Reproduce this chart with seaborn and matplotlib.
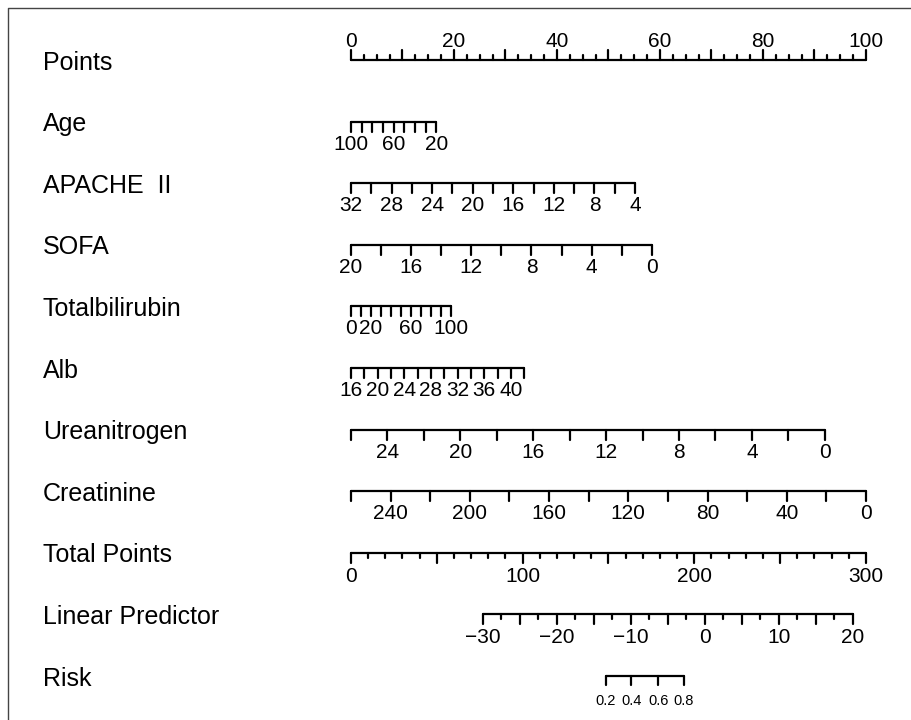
import numpy as np
import pandas as pd
import matplotlib
matplotlib.use("Agg")
import matplotlib.pyplot as plt
from matplotlib.lines import Line2D
import seaborn as sns

# ---------------- data ----------------
row_names = ["Points", "Age", "APACHE  II", "SOFA", "Totalbilirubin", "Alb",
             "Ureanitrogen", "Creatinine", "Total Points", "Linear Predictor", "Risk"]

points_ticks = np.arange(0, 100.01, 2.5)
points_labels = [0, 20, 40, 60, 80, 100]

# variable: tick values, labelled values, (value at start, value at end), (points at start, points at end)
age_ticks = [100, 90, 80, 70, 60, 50, 40, 30, 20]
age_labels = [100, 60, 20]
age_range = (100, 20)
age_points = (0, 16.6)

apache_ticks = list(range(32, 3, -2))
apache_labels = [32, 28, 24, 20, 16, 12, 8, 4]
apache_range = (32, 4)
apache_points = (0, 55.15)

sofa_ticks = list(range(20, -1, -2))
sofa_labels = [20, 16, 12, 8, 4, 0]
sofa_range = (20, 0)
sofa_points = (0, 58.4)

tbil_ticks = list(range(0, 101, 10))
tbil_labels = [0, 20, 60, 100]
tbil_range = (0, 100)
tbil_points = (0, 19.35)

alb_ticks = list(range(16, 43, 2))
alb_labels = [16, 20, 24, 28, 32, 36, 40]
alb_range = (16, 42)
alb_points = (0, 33.65)

urea_ticks = list(range(26, -1, -2))
urea_labels = [24, 20, 16, 12, 8, 4, 0]
urea_range = (26, 0)
urea_points = (0, 92.0)

creat_ticks = list(range(260, -1, -20))
creat_labels = [240, 200, 160, 120, 80, 40, 0]
creat_range = (260, 0)
creat_points = (0, 100.0)

total_ticks = list(range(0, 301, 10))
total_labels = [0, 100, 200, 300]
total_range = (0, 300)

lp_ticks = np.arange(-30, 20.01, 2.5)
lp_labels = [-30, -20, -10, 0, 10, 20]
lp_range = (-30, 20)
lp_total = (76.7, 292.3)   # total points at LP -30 and LP 20

risk_values = [0.2, 0.4, 0.6, 0.8]
risk_lp = [-13.4, -9.9, -6.3, -2.8]

# ---------------- helpers ----------------
def lin(v, vr, pr):
    v = np.asarray(v, dtype=float)
    return pr[0] + (v - vr[0]) * (pr[1] - pr[0]) / (vr[1] - vr[0])

def total_to_x(t):
    return np.asarray(t, dtype=float) / 3.0

def lp_to_x(v):
    return total_to_x(lin(v, lp_range, lp_total))

W, H = 912, 720
row_y0, row_dy = 60.0, 61.6
rows_y = [row_y0 + i * row_dy for i in range(len(row_names))]

segs = []
def seg(x0, y0, x1, y1):
    k = len(segs)
    segs.append((k, x0, y0))
    segs.append((k, x1, y1))

texts = []

# Points axis (ticks up, labels above)
y = rows_y[0]
seg(0, y, 100, y)
for t in points_ticks:
    L = 10 if abs(t % 10) < 1e-9 else 5
    seg(t, y, t, y - L)
for t in points_labels:
    texts.append((t, y - 13, str(t), 15, "baseline"))

def var_axis(i, ticks, labels, vr, pr, tl=10):
    y = rows_y[i]
    xs = lin(ticks, vr, pr)
    seg(xs.min(), y, xs.max(), y)
    for x in xs:
        seg(x, y, x, y + tl)
    for v in labels:
        texts.append((float(lin(v, vr, pr)), y + 28, str(v), 15, "baseline"))

var_axis(1, age_ticks, age_labels, age_range, age_points)
var_axis(2, apache_ticks, apache_labels, apache_range, apache_points)
var_axis(3, sofa_ticks, sofa_labels, sofa_range, sofa_points)
var_axis(4, tbil_ticks, tbil_labels, tbil_range, tbil_points)
var_axis(5, alb_ticks, alb_labels, alb_range, alb_points)
var_axis(6, urea_ticks, urea_labels, urea_range, urea_points)
var_axis(7, creat_ticks, creat_labels, creat_range, creat_points)

# Total points
y = rows_y[8]
seg(0, y, 100, y)
for t in total_ticks:
    L = 10 if t % 50 == 0 else 5
    x = float(total_to_x(t))
    seg(x, y, x, y + L)
for t in total_labels:
    texts.append((float(total_to_x(t)), y + 29, str(t), 15, "baseline"))

# Linear predictor
y = rows_y[9]
xs = lp_to_x(lp_ticks)
seg(xs.min(), y, xs.max(), y)
for v, x in zip(lp_ticks, xs):
    L = 10 if abs(v % 5) < 1e-9 else 5
    seg(x, y, x, y + L)
for v in lp_labels:
    lab = str(v).replace("-", "\u2212")
    texts.append((float(lp_to_x(v)), y + 29, lab, 15, "baseline"))

# Risk
y = rows_y[10]
xs = lp_to_x(risk_lp)
seg(xs.min(), y, xs.max(), y)
for x in xs:
    seg(x, y, x, y + 9)
for v, x in zip(risk_values, xs):
    texts.append((float(x), y + 29, f"{v:.1f}", 10.5, "baseline"))

df = pd.DataFrame(segs, columns=["seg", "x", "y"])

# ---------------- figure ----------------
sns.set_theme(style="white")
plt.rcParams["font.family"] = ["Liberation Sans", "DejaVu Sans"]

fig = plt.figure(figsize=(W / 100, H / 100), dpi=100)
ax = fig.add_axes([0, 0, 1, 1])
px_per_pt = 5.15
x_left = -351 / px_per_pt
x_right = (W - 351) / px_per_pt
ax.set_xlim(x_left, x_right)
ax.set_ylim(H, 0)
ax.axis("off")

sns.lineplot(data=df, x="x", y="y", units="seg", estimator=None, sort=False,
             color="black", linewidth=1.6, legend=False, ax=ax)

for x, y, s, fs, va in texts:
    ax.text(x, y, s, ha="center", va=va, fontsize=fs, color="black")

label_x = (43 - 351) / px_per_pt
for name, y in zip(row_names, rows_y):
    ax.text(label_x, y, name, ha="left", va="center_baseline", fontsize=18, color="black")

fig.add_artist(Line2D([8 / W, 8 / W, 1.0], [0.0, 1 - 8 / H, 1 - 8 / H],
                      transform=fig.transFigure, color="#444444", linewidth=1.0))

fig.savefig("out.png", dpi=100)
